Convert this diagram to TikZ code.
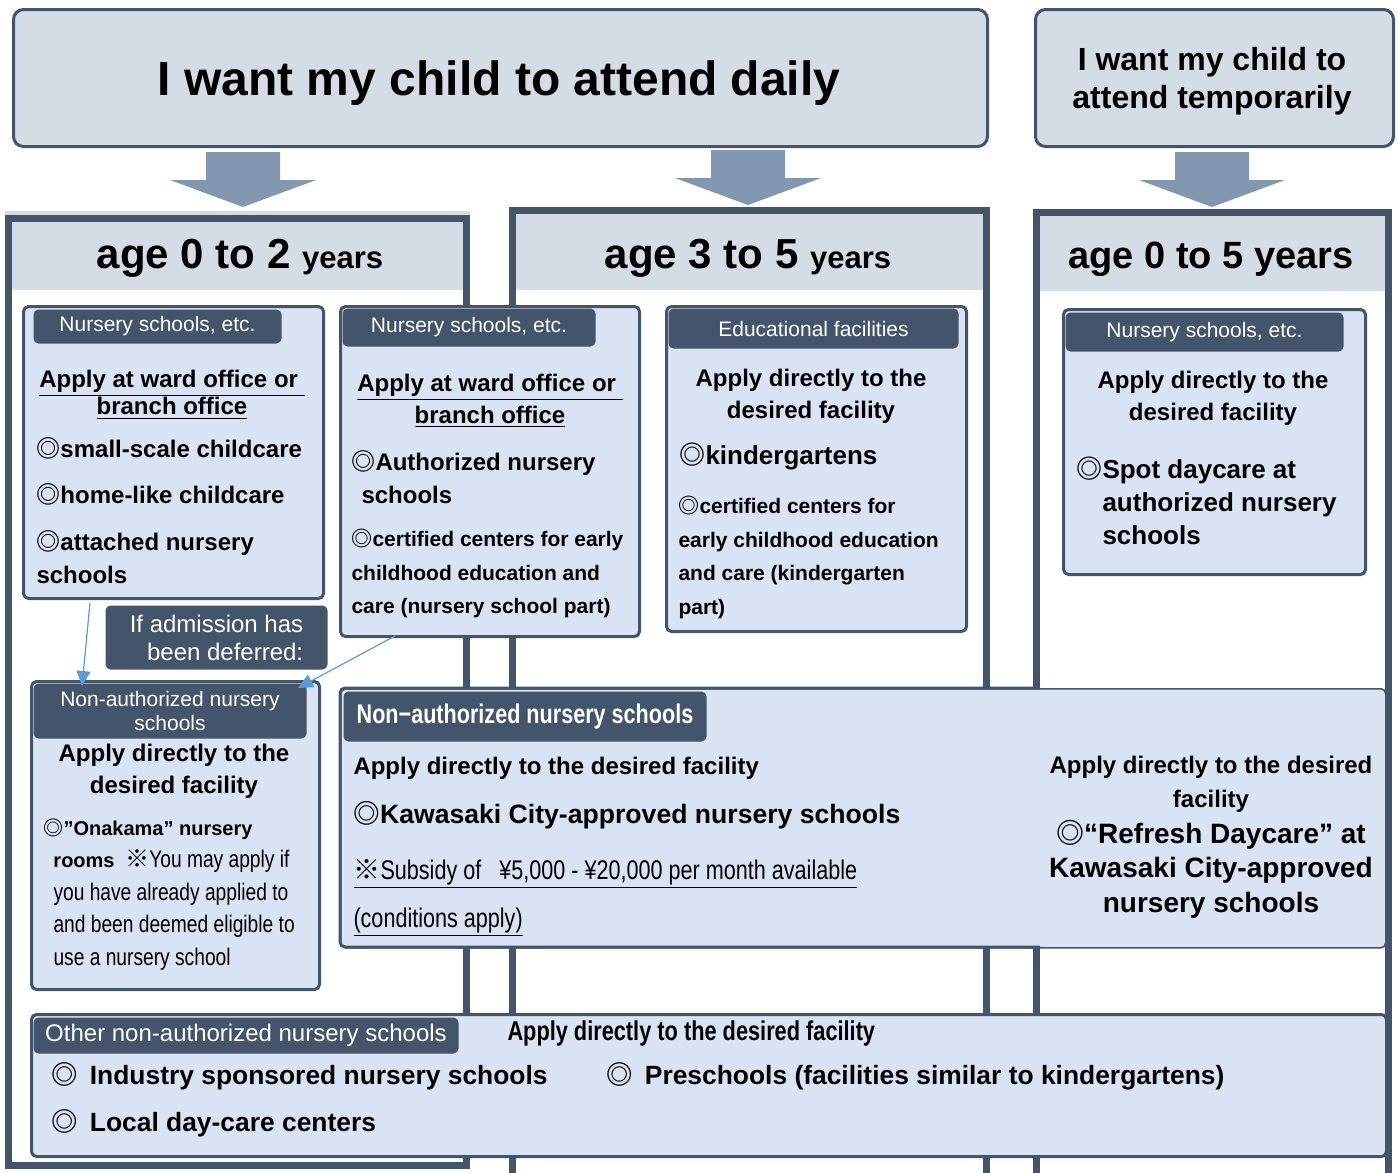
\documentclass[tikz,border=0pt]{standalone}
\usepackage{fontspec}
\setmainfont{Liberation Sans}
\newfontfamily\jpfont{Noto Sans CJK JP}
\newfontfamily\narrowfont{Liberation Sans}[FakeStretch=0.8]
\usetikzlibrary{arrows.meta}
\definecolor{slate}{HTML}{44546A}
\definecolor{mist}{HTML}{D6DCE5}
\definecolor{pale}{HTML}{DAE3F3}
\definecolor{steel}{HTML}{8497B0}
\definecolor{sky}{HTML}{5B9BD5}
\newcommand{\jpring}{{\jpfont ◎}}
\newcommand{\jpnote}{{\jpfont ※}}

\begin{document}
\begin{tikzpicture}[x=.5pt,y=-.5pt,>=Stealth,line width=1.5pt,
  frame/.style={draw=slate,line width=3.5pt},
  panel/.style={draw=slate,fill=pale,rounded corners=2.5pt,anchor=north west,inner sep=0pt},
  tab/.style={fill=slate,text=white,rounded corners=2.5pt,anchor=north west,inner sep=0pt,align=center,font=\fontsize{10.5}{12}\selectfont},
  txt/.style={inner sep=0pt,font=\bfseries\fontsize{12}{16}\selectfont},
  slim/.style={inner sep=0pt,font=\narrowfont\fontsize{12}{16.25}\selectfont},
  link/.style={draw=sky,line width=.6pt,-{Triangle[length=7.5pt,width=7pt]}}]
\useasboundingbox (0,0) rectangle (1398,1173);
% wishes
\node[panel,fill=mist,rounded corners=5pt,minimum width=487pt,minimum height=68.5pt] (daily) at (12,8) {};
\node[panel,fill=mist,rounded corners=5pt,minimum width=179pt,minimum height=68.5pt] (temp) at (1034,8) {};
\node[anchor=base,inner sep=0pt,font=\bfseries\fontsize{24}{28}\selectfont] (dailyT) at (499,95) {I want my child to attend daily};
\node[anchor=north,inner sep=0pt,align=center,font=\bfseries\fontsize{16}{19}\selectfont] (tempT) at (1212,46) {I want my child to\\attend temporarily};
\foreach \cx/\ty in {243/152,748/150,1212/152}
  \fill[steel] (\cx-37,\ty)--(\cx+37,\ty)--(\cx+37,\ty+28)--(\cx+73,\ty+28)--(\cx,\ty+55)--(\cx-73,\ty+28)--(\cx-37,\ty+28)--cycle;
% age columns
\fill[mist] (5,211) rectangle (470,216);
\fill[mist] (12,222) rectangle (463,290);
\fill[mist] (516,214) rectangle (983,290);
\fill[mist] (1040,216) rectangle (1386,291);
\draw[frame] (8.5,218.5) rectangle (466,1165);
\draw[frame] (512,1185)--(512,210.5)--(986.5,210.5)--(986.5,1185);
\draw[frame] (1036,1185)--(1036,212.5)--(1388.5,212.5)--(1388.5,1185);
\node[anchor=base,inner sep=0pt,font=\bfseries\fontsize{21}{24}\selectfont] (age02) at (240,268) {age 0 to 2 {\fontsize{15.5}{18}\selectfont years}};
\node[anchor=base,inner sep=0pt,font=\bfseries\fontsize{21}{24}\selectfont] (age35) at (748,268) {age 3 to 5 {\fontsize{15.5}{18}\selectfont years}};
\node[anchor=base,inner sep=0pt,font=\bfseries\fontsize{19}{24}\selectfont] (age05) at (1211,268) {age 0 to 5 years};
% 0-2 nursery schools
\node[panel,minimum width=150pt,minimum height=146pt] (nurA) at (22,305) {};
\node[tab,minimum width=124pt,minimum height=17pt] (tabA) at (32,308) {Nursery schools, etc.};
\node[txt,anchor=north,align=center,font=\bfseries\fontsize{12}{13.5}\selectfont] (wardA) at (172,369) {\underline{Apply at ward office or\ }\\\underline{branch office}};
\node[txt,anchor=base west] (smallA) at (35,457) {\jpring small-scale childcare};
\node[txt,anchor=base west] (homeA) at (35,503) {\jpring home-like childcare};
\node[txt,anchor=base west] (attA) at (35,550) {\jpring attached nursery};
\node[txt,anchor=base west] (schA) at (35,583) {schools};
% 3-5 nursery schools
\node[panel,minimum width=149.5pt,minimum height=165pt] (nurB) at (339,305) {};
\node[tab,minimum width=126.5pt,minimum height=19pt] (tabB) at (341,307) {Nursery schools, etc.};
\node[txt,anchor=north,align=center] (wardB) at (490,372.5) {\underline{Apply at ward office or\ }\\\underline{branch office}};
\node[txt,anchor=north west,align=left,font=\bfseries\fontsize{12}{16.5}\selectfont] (authB) at (350,449) {\jpring Authorized nursery\\\hspace*{5pt}schools};
\node[txt,anchor=north west,align=left,font=\bfseries\fontsize{10.5}{16.75}\selectfont] (certB) at (350,528) {\jpring certified centers for early\\childhood education and\\care (nursery school part)};
% educational facilities
\node[panel,minimum width=150pt,minimum height=162.5pt] (eduC) at (665,305) {};
\node[tab,minimum width=145pt,minimum height=20pt] (tabC) at (667,307) {Educational facilities};
\node[txt,anchor=north,align=center] (dirC) at (811,367.5) {Apply directly to the\\desired facility};
\node[txt,anchor=base west,font=\bfseries\fontsize{13}{16}\selectfont] (kinC) at (678,464) {\jpring kindergartens};
\node[txt,anchor=north west,align=left,font=\bfseries\fontsize{10.5}{16.7}\selectfont] (certC) at (677,495) {\jpring certified centers for\\early childhood education\\and care (kindergarten\\part)};
% temporary care
\node[panel,minimum width=151pt,minimum height=132.5pt] (spotD) at (1062,308) {};
\node[tab,minimum width=139pt,minimum height=19.5pt] (tabD) at (1064,311) {Nursery schools, etc.};
\node[txt,anchor=north,align=center] (dirD) at (1213,369.5) {Apply directly to the\\desired facility};
\node[txt,anchor=north west,align=left,font=\bfseries\fontsize{13}{16.5}\selectfont] (spotT) at (1075,455) {\jpring Spot daycare at\\\hspace*{13pt}authorized nursery\\\hspace*{13pt}schools};
% deferred admission
\node[tab,minimum width=111pt,minimum height=32pt,align=right,font=\fontsize{12}{14}\selectfont] (defer) at (104,604) {If admission has\\been deferred:};
\node[panel,minimum width=144pt,minimum height=154pt] (nonE) at (30,680) {};
\node[tab,minimum width=136.5pt,minimum height=27.5pt] (tabE) at (32,682) {Non-authorized nursery\\schools};
\node[txt,anchor=north,align=center] (dirE) at (174,742.5) {Apply directly to the\\desired facility};
\node[slim,anchor=north west,align=left] (onaE) at (42,817) {{\rmfamily\bfseries\fontsize{10}{16.25}\selectfont\jpring”Onakama” nursery}\\
  \hspace*{5pt}{\rmfamily\bfseries\fontsize{10}{16.25}\selectfont rooms}\ \ \jpnote You may apply if\\
  \hspace*{5pt}you have already applied to\\
  \hspace*{5pt}and been deemed eligible to\\
  \hspace*{5pt}use a nursery school};
\coordinate (outA) at (90,603);
\coordinate (inE) at (82,686);
\coordinate (outB) at (395,636);
\coordinate (inE2) at (298,688);
\draw[link] (outA) -- (inE);
\draw[link] (outB) -- (inE2);
% non-authorized, 3-5 and temporary
\node[panel,line width=.8pt,minimum width=522.5pt,minimum height=129.5pt] (nonF) at (340,688) {};
\draw[slate,rounded corners=2.5pt] (1040,688)--(340,688)--(340,947)--(1040,947);
\node[tab,minimum width=181.5pt,minimum height=25pt,font=\narrowfont\bfseries\fontsize{13.5}{16}\selectfont] (tabF) at (342,690) {Non−authorized nursery schools};
\node[txt,anchor=base west] (dirF) at (352,774) {Apply directly to the desired facility};
\node[txt,anchor=base west,font=\bfseries\fontsize{13.3}{16}\selectfont] (kawF) at (352,823) {\jpring Kawasaki City-approved nursery schools};
\node[slim,anchor=base west,font=\narrowfont\fontsize{13.5}{16}\selectfont] (subF) at (352,879) {\underline{\jpnote Subsidy of\hspace{9pt}¥5,000 - ¥20,000 per month available}};
\node[slim,anchor=base west,font=\narrowfont\fontsize{13.5}{16}\selectfont] (condF) at (352,927) {\underline{(conditions apply)}};
\node[txt,anchor=north,align=center,font=\bfseries\fontsize{12}{17}\selectfont] (dirF2) at (1211,754.5) {Apply directly to the desired\\facility};
\node[txt,anchor=north,align=center,font=\bfseries\fontsize{14}{17.25}\selectfont] (refF) at (1211,818.6) {\jpring“Refresh Daycare” at\\Kawasaki City-approved\\nursery schools};
% other non-authorized
\node[panel,minimum width=677.5pt,minimum height=71pt] (othG) at (30,1013) {};
\node[tab,minimum width=212.5pt,minimum height=18pt,font=\fontsize{12}{14}\selectfont] (tabG) at (32,1016) {Other non-authorized nursery schools};
\node[anchor=west,inner sep=0pt,font=\narrowfont\bfseries\fontsize{13.6}{16}\selectfont] (dirG) at (506,1033) {Apply directly to the desired facility};
\node[txt,anchor=base west,font=\bfseries\fontsize{13.2}{16}\selectfont] (indG) at (50,1084) {\jpring\hspace{6pt}Industry sponsored nursery schools};
\node[txt,anchor=base west,font=\bfseries\fontsize{13.2}{16}\selectfont] (preG) at (605,1084) {\jpring\hspace{6pt}Preschools (facilities similar to kindergartens)};
\node[txt,anchor=base west,font=\bfseries\fontsize{13.2}{16}\selectfont] (locG) at (50,1131) {\jpring\hspace{6pt}Local day-care centers};
\end{tikzpicture}
\end{document}
